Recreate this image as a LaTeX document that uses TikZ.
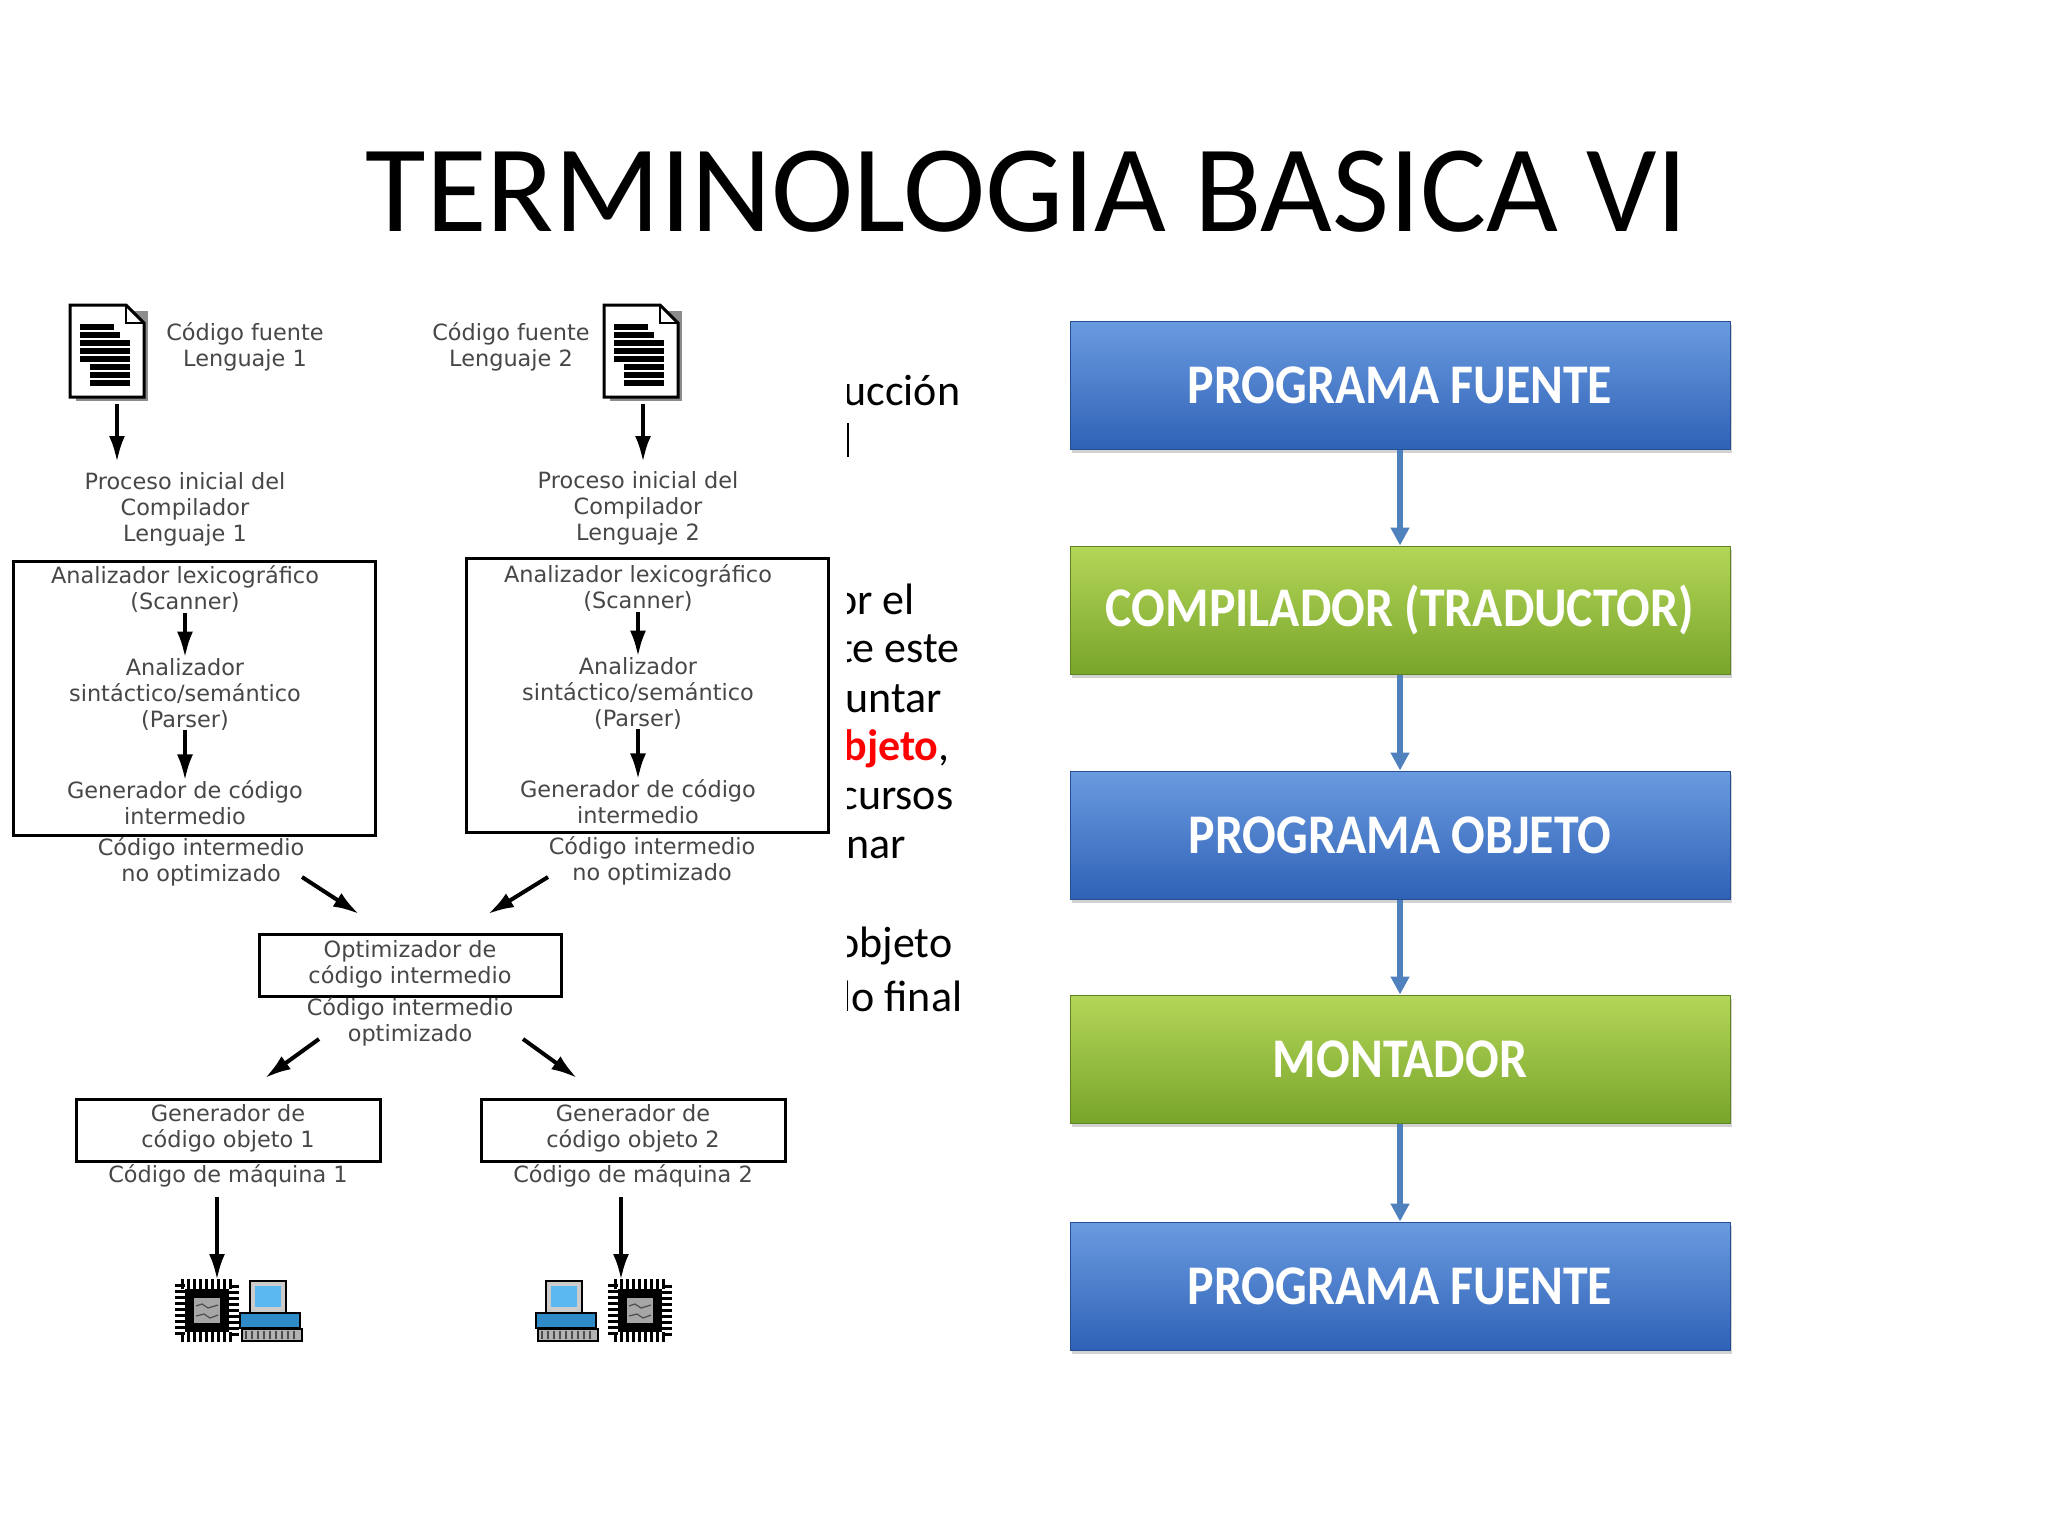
\documentclass[tikz,border=0pt]{standalone}
\usepackage{fontspec}
\setmainfont{Carlito}
\newfontfamily\dv{DejaVu Sans}
\usetikzlibrary{arrows.meta,shadows}
\definecolor{bltop}{HTML}{6A9BE0}
\definecolor{blbot}{HTML}{2F62B6}
\definecolor{grtop}{HTML}{B4D658}
\definecolor{grbot}{HTML}{78A52B}
\definecolor{conn}{HTML}{4F81BD}
\definecolor{scr}{HTML}{5BB8F0}
\definecolor{cblue}{HTML}{2E8BC8}
\newcommand{\sq}[1]{\scalebox{0.89}[1]{#1}}
\begin{document}
\begin{tikzpicture}[x=0.5pt,y=-0.5pt,
  lt/.style={font=\dv\fontsize{11.2}{13}\selectfont, text=black!72, align=center, inner sep=0pt},
  bx/.style={draw=black, line width=1.5pt},
  ba/.style={-{Latex[length=13pt,width=8pt]}, line width=2pt},
  mid/.style={font=\fontsize{22}{26}\selectfont, anchor=west, inner sep=0pt},
  rb/.style={minimum width=330pt, minimum height=64pt, inner sep=0pt, font=\bfseries\fontsize{28}{32}\selectfont, text=white, drop shadow={shadow xshift=1pt, shadow yshift=-2pt, opacity=0.35}},
  blu/.style={rb, top color=bltop, bottom color=blbot, draw=blbot!80!black, line width=0.5pt},
  grn/.style={rb, top color=grtop, bottom color=grbot, draw=grbot!80!black, line width=0.5pt},
  ca/.style={-{Triangle[length=9pt,width=9pt]}, draw=conn, line width=3pt},
  doc/.pic={
    \fill[black!45] (6,6) rectangle (78,96);
    \draw[fill=white, line width=1.5pt] (0,0) -- (56,0) -- (74,18) -- (74,92) -- (0,92) -- cycle;
    \draw[line width=1.2pt] (56,0) -- (56,18) -- (74,18);
    \foreach \yy/\xa/\xb in {22/10/44,30/10/50,38/10/60,46/10/60,54/10/60,62/20/60,70/20/60,78/20/60}
      \draw[line width=2.6pt] (\xa,\yy) -- (\xb,\yy);
  },
  chip/.pic={
    \draw[black, line width=5pt, dash pattern=on 1.5pt off 1.5pt] (0,0) rectangle (54,53);
    \fill[black] (5,5) rectangle (49,48);
    \fill[black!35] (14,14) rectangle (40,39);
    \draw[black!70, line width=0.6pt] (16,22) -- (22,20) -- (28,24) -- (38,21) (16,32) -- (24,30) -- (30,34) -- (38,31);
  },
  comp/.pic={
    \draw[fill=black!20, line width=1pt] (10,0) rectangle (46,32);
    \fill[scr] (15,5) rectangle (41,26);
    \draw[fill=cblue, line width=1pt] (0,32) rectangle (60,47);
    \draw[fill=black!30, line width=1pt] (2,48) rectangle (62,60);
    \foreach \k in {6,12,...,56} \draw[black!70, line width=0.8pt] (\k,50) -- (\k,58);
  }
]
\useasboundingbox (0,0) rectangle (2048,1536);
\fill[white] (0,0) rectangle (2048,1536);

% title
\node[font=\fontsize{62}{72}\selectfont, inner sep=0pt] (title) at (1027,192) {TERMINOLOGIA BASICA VI};

% ---- left diagram ----
\pic at (70,305) {doc};
\pic at (604,305) {doc};
\node[lt] (cf1) at (245,347) {Código fuente\\Lenguaje 1};
\node[lt] (cf2) at (511,347) {Código fuente\\Lenguaje 2};
\coordinate (d1) at (117,404); \coordinate (p1t) at (117,462);
\coordinate (d2) at (643,404); \coordinate (p2t) at (643,462);
\draw[ba] (d1) -- (p1t);
\draw[ba] (d2) -- (p2t);
\node[lt] (pi1) at (185,509) {Proceso inicial del\\Compilador\\Lenguaje 1};
\node[lt] (pi2) at (638,508) {Proceso inicial del\\Compilador\\Lenguaje 2};

\node[bx, minimum width=181pt, minimum height=137pt, inner sep=0pt] (box1) at (194,698) {};
\node[bx, minimum width=181pt, minimum height=137pt, inner sep=0pt] (box2) at (647,695) {};

\node[lt] (lx1) at (185,589) {Analizador lexicográfico\\(Scanner)};
\node[lt] (sx1) at (185,694) {Analizador\\sintáctico/semántico\\(Parser)};
\node[lt] (gi1) at (185,803) {Generador de código\\intermedio};
\draw[ba] (lx1) -- (sx1);
\draw[ba] (sx1) -- (gi1);
\node[lt] (lx2) at (638,588) {Analizador lexicográfico\\(Scanner)};
\node[lt] (sx2) at (638,693) {Analizador\\sintáctico/semántico\\(Parser)};
\node[lt] (gi2) at (638,802) {Generador de código\\intermedio};
\draw[ba] (lx2) -- (sx2);
\draw[ba] (sx2) -- (gi2);

\node[lt] (ci1) at (201,862) {Código intermedio\\no optimizado};
\node[lt] (ci2) at (652,861) {Código intermedio\\no optimizado};
\coordinate (q1) at (302,877); \coordinate (q1e) at (359,914);
\coordinate (q2) at (548,877); \coordinate (q2e) at (488,914);
\draw[ba] (q1) -- (q1e);
\draw[ba] (q2) -- (q2e);

\node[bx, minimum width=151pt, minimum height=31pt, inner sep=0pt] (opt) at (410,965) {};
\node[lt] (optt) at (410,964) {Optimizador de\\código intermedio};
\node[lt] (cio) at (410,1022) {Código intermedio\\optimizado};
\coordinate (r1) at (319,1039); \coordinate (r1e) at (265,1078);
\coordinate (r2) at (523,1039); \coordinate (r2e) at (577,1078);
\draw[ba] (r1) -- (r1e);
\draw[ba] (r2) -- (r2e);

\node[bx, minimum width=152pt, minimum height=31pt, inner sep=0pt] (g1) at (228,1130) {};
\node[lt] (g1t) at (228,1128) {Generador de\\código objeto 1};
\node[bx, minimum width=152pt, minimum height=31pt, inner sep=0pt] (g2) at (633,1130) {};
\node[lt] (g2t) at (633,1128) {Generador de\\código objeto 2};
\node[lt] (m1) at (228,1176) {Código de máquina 1};
\node[lt] (m2) at (633,1176) {Código de máquina 2};
\coordinate (s1) at (217,1197); \coordinate (s1e) at (217,1280);
\coordinate (s2) at (621,1197); \coordinate (s2e) at (621,1280);
\draw[ba] (s1) -- (s1e);
\draw[ba] (s2) -- (s2e);
\pic at (180,1284) {chip};
\pic at (240,1281) {comp};
\pic at (536,1281) {comp};
\pic at (613,1284) {chip};

% ---- clipped middle text ----
\begin{scope}
\clip (847,300) rectangle (1060,1060);
\node[mid] at (843,391) {ucción};
\node[mid] at (834,599) {or el};
\node[mid] at (838,649) {te este};
\node[mid] at (845,699) {untar};
\node[mid] at (843,749) {\textcolor{red}{\bfseries bjeto},};
\node[mid] at (839,799) {cursos};
\node[mid] at (846,848) {nar};
\node[mid] at (836,946) {objeto};
\node[mid] at (828,996) {do final};
\end{scope}
\draw[line width=1pt] (848,423) -- (848,457);

% ---- right flow ----
\node[blu] (b1) at (1400,385) {\sq{PROGRAMA FUENTE}};
\node[grn] (b2) at (1400,610) {\sq{COMPILADOR (TRADUCTOR)}};
\node[blu] (b3) at (1400,835) {\sq{PROGRAMA OBJETO}};
\node[grn] (b4) at (1400,1059) {\sq{MONTADOR}};
\node[blu] (b5) at (1400,1286) {\sq{PROGRAMA FUENTE}};
\draw[ca] (b1) -- (b2);
\draw[ca] (b2) -- (b3);
\draw[ca] (b3) -- (b4);
\draw[ca] (b4) -- (b5);
\end{tikzpicture}
\end{document}
